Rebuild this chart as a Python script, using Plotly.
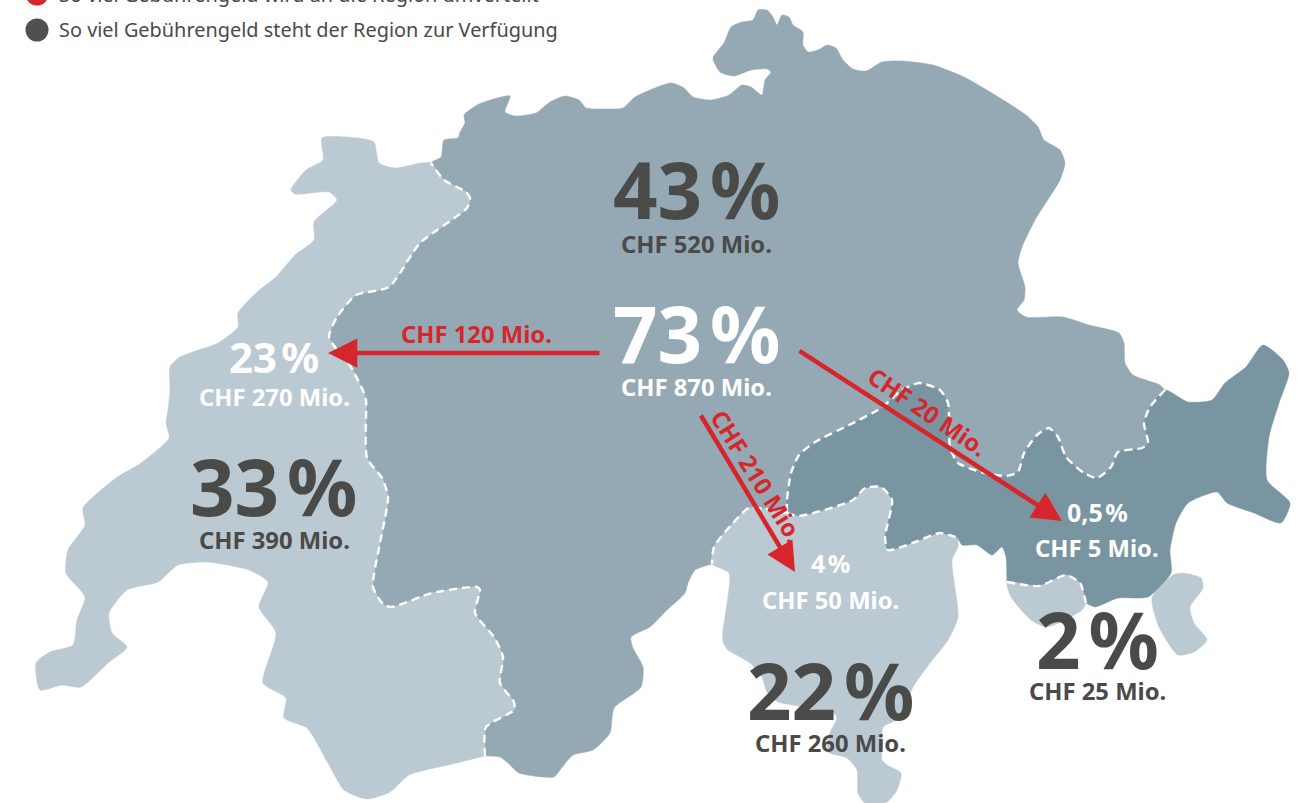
import plotly.graph_objects as go

# ---------- map outlines (in picture units) ----------
north_coast = [(431,163),(441,157),(444,140),(458,138),(460,132),(465,123),(464,115),(479,104),(510,96),(505,112),(515,116),(536,113),(550,102),(565,96),(579,100),(586,108),(600,109),(623,108),(635,97),(671,83),(684,88),(693,97),(711,100),(729,95),(742,85),(751,87),(762,95),(765,80),(771,72),(767,69),(751,70),(734,76),(720,72),(713,58),(724,43),(731,27),(742,22),(753,20),(758,10),(767,10),(773,17),(777,25),(782,15),(789,17),(793,25),(803,32),(803,45),(808,52),(818,50),(827,45),(836,48),(843,60),(853,69),(866,71),(882,62),(902,61),(933,65),(964,77),(1000,98),(1026,115),(1038,127),(1044,140),(1060,150),(1065,163),(1060,180),(1035,220),(1022,247),(1018,263),(1025,287),(1024,300),(1017,310),(1026,317),(1063,317),(1089,325),(1119,333),(1124,343),(1125,363),(1133,375),(1160,385),(1165,390)]
border_north_east = [(1165,390),(1150,407),(1144,423),(1148,443),(1142,448),(1118,452),(1111,467),(1097,478),(1084,473),(1066,457),(1058,437),(1049,428),(1037,435),(1024,453),(1018,472),(1006,476),(981,472),(958,463),(950,447),(948,403),(940,390),(919,383),(902,390),(881,408),(849,425),(815,442),(799,455),(791,473),(787,500),(787,513)]
border_north_ticino = [(787,513),(749,508),(733,523),(714,547),(712,564)]
south_coast = [(712,564),(695,570),(688,583),(685,593),(667,610),(650,627),(631,637),(633,648),(643,667),(641,687),(614,708),(610,733),(593,750),(573,755),(560,770),(554,777),(519,773),(508,763),(500,757),(485,756)]
border_north_west = [(485,756),(486,727),(514,710),(514,702),(500,683),(503,657),(494,637),(475,613),(480,590),(477,587),(432,593),(392,607),(384,605),(373,587),(380,543),(388,497),(382,478),(367,458),(366,400),(364,393),(351,367),(329,337),(337,317),(356,295),(389,287),(420,243),(467,208),(470,198),(466,192),(444,180),(431,163)]
west_coast = [(431,163),(421,163),(395,168),(379,163),(374,142),(358,138),(322,138),(323,160),(306,170),(291,190),(295,194),(329,192),(337,200),(314,222),(314,240),(295,255),(276,277),(257,292),(238,313),(238,327),(218,343),(180,357),(170,367),(170,390),(168,410),(166,423),(169,438),(141,463),(116,478),(83,508),(85,525),(68,550),(66,573),(85,597),(77,620),(73,645),(50,652),(36,663),(40,690),(62,685),(81,687),(108,663),(127,647),(112,633),(109,613),(127,590),(158,582),(178,565),(207,562),(249,570),(268,582),(259,607),(276,633),(263,683),(286,698),(284,718),(307,728),(328,763),(344,790),(367,799),(390,792),(409,775),(448,765),(485,756)]
border_ticino_east = [(787,513),(799,516),(853,500),(865,488),(881,487),(892,500),(885,537),(888,550),(915,542),(940,533),(958,538)]
ticino_coast = [(958,538),(958,547),(952,560),(958,617),(948,640),(930,663),(913,687),(900,718),(883,727),(882,747),(882,760),(887,765),(901,773),(897,790),(887,802),(865,803),(858,793),(857,770),(847,758),(828,752),(828,737),(837,718),(833,712),(817,710),(793,705),(778,702),(767,692),(762,677),(750,663),(740,657),(728,650),(723,642),(723,630),(725,617),(729,573),(712,564)]
east_coast = [(958,538),(962,545),(977,545),(992,555),(1002,547),(1006,557),(1007,582)]
border_east_bergell = [(1007,582),(1039,586),(1066,575),(1080,583),(1086,603)]
east_coast_2 = [(1086,603),(1095,607),(1118,598),(1148,597),(1171,573),(1170,550),(1176,523),(1188,503),(1217,492),(1227,503),(1254,513),(1281,523),(1290,503),(1267,480),(1269,437),(1279,403),(1289,373),(1283,360),(1263,345),(1246,367),(1225,383),(1212,400),(1188,402),(1165,390)]
bergell_coast = [(1086,603),(1082,610),(1047,627),(1031,620),(1011,597),(1007,582)]
puschlav_coast = [(1152,598),(1173,575),(1182,573),(1201,578),(1203,588),(1190,607),(1194,623),(1207,640),(1194,652),(1178,655),(1159,627),(1152,598)]

# ---------- labels ----------
share_labels = ["43\u200a%", "73\u200a%", "23\u200a%", "33\u200a%", "22\u200a%", "2\u200a%", "0,5\u200a%", "4\u200a%"]
amount_labels = ["CHF 520 Mio.", "CHF 870 Mio.", "CHF 270 Mio.", "CHF 390 Mio.", "CHF 260 Mio.", "CHF 25 Mio.", "CHF 5 Mio.", "CHF 50 Mio."]
flow_labels = ["CHF 120 Mio.", "CHF 20 Mio.", "CHF 210 Mio."]
legend_labels = ["So viel Gebührengeld wird an die Region umverteilt", "So viel Gebührengeld steht der Region zur Verfügung"]

# ---------- styling / placement ----------
BLUE, LIGHT, DARK, RED, INK = "#94a9b4", "#bbc9d2", "#7895a1", "#d7262b", "#4a4a49"
FONT = "Noto Sans"
W, H = 1303, 803
fig = go.Figure()

def poly(points, color):
    fig.add_trace(go.Scatter(x=[p[0] for p in points], y=[p[1] for p in points], mode="lines", fill="toself",
                             fillcolor=color, line=dict(color=color, width=0.5, shape="spline", smoothing=0.6, simplify=False),
                             hoverinfo="skip"))

def border(points):
    fig.add_trace(go.Scatter(x=[p[0] for p in points], y=[p[1] for p in points], mode="lines",
                             line=dict(color="white", width=2.4, dash="8px,5px", shape="spline", smoothing=0.6, simplify=False),
                             hoverinfo="skip"))

poly(north_coast + border_north_east + border_north_ticino + south_coast + border_north_west, BLUE)
poly(west_coast + border_north_west, LIGHT)
poly(border_north_ticino[::-1] + border_ticino_east + ticino_coast, LIGHT)
poly(border_north_east + border_ticino_east + east_coast + border_east_bergell + east_coast_2, DARK)
poly(border_east_bergell + bergell_coast, LIGHT)
poly(puschlav_coast, LIGHT)
for b in (border_north_east, border_north_ticino, border_north_west, border_ticino_east, border_east_bergell):
    border(b)

# legend dots
fig.add_trace(go.Scatter(x=[37, 37], y=[-6, 30], mode="markers", cliponaxis=True,
                         marker=dict(size=23, color=[RED, "#505050"]), hoverinfo="skip"))

ann = []
def text(s, x, y, size, color, bold=True, angle=0, anchor="center"):
    ann.append(dict(text=f"<b>{s}</b>" if bold else s, xref="paper", yref="paper", x=x/W, y=1-y/H, xanchor=anchor,
                    yanchor="middle", showarrow=False, textangle=angle,
                    font=dict(family=FONT, size=size, color=color)))

share_pos = [(696,189,78,INK),(696,333,78,"white"),(274,356,42,"white"),(273,486,78,INK),(830,690,78,INK),(1097,639,78,INK),(1097,512,25,"white"),(830,563,25,"white")]
amount_pos = [(696,244,INK),(696,387,"white"),(274,397,"white"),(274,540,INK),(830,743,INK),(1097,691,INK),(1097,548,"white"),(830,600,"white")]
for s, (x, y, sz, c) in zip(share_labels, share_pos):
    text(s, x, y, sz, c)
for s, (x, y, c) in zip(amount_labels, amount_pos):
    text(s, x, y, 23.8, c)
flow_pos = [(476,334,0),(928,412,34),(757,476,58)]
for s, (x, y, a) in zip(flow_labels, flow_pos):
    text(s, x, y, 23.8, RED, angle=a)
for s, y in zip(legend_labels, [-5, 29]):
    text(s, 57, y, 19.9, INK, bold=False, anchor="left")

# red flow arrows: (from, to)
flows = [((601,353),(328,353)), ((798,350),(1062,521)), ((700,414),(795,572))]
for (x0, y0), (x1, y1) in flows:
    ann.append(dict(x=x1, y=y1, ax=x0, ay=y0, xref="x", yref="y", axref="x", ayref="y", text="", showarrow=True,
                    arrowhead=2, arrowsize=1.3, arrowwidth=4.5, arrowcolor=RED, standoff=0))

fig.update_layout(width=W, height=H, margin=dict(l=0, r=0, t=0, b=0), showlegend=False,
                  paper_bgcolor="white", plot_bgcolor="white", annotations=ann,
                  xaxis=dict(range=[0, W], visible=False, fixedrange=True),
                  yaxis=dict(range=[H, 0], visible=False, fixedrange=True))
fig.write_html("out.html", config=dict(displayModeBar=False),
               post_script="document.body.style.margin='0';document.body.style.overflow='hidden';")
